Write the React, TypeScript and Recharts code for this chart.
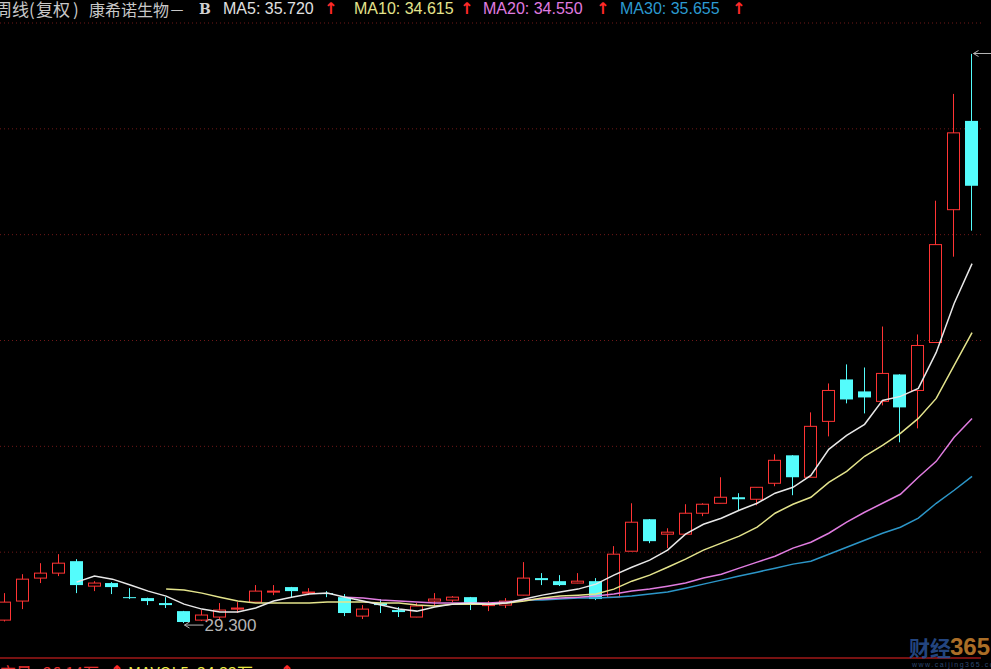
import React from 'react';
import { Bar, CartesianGrid, ComposedChart, Line, ReferenceLine, XAxis, YAxis } from 'recharts';

// weekly candles (prices)
const opens = [29.58, 31.38, 33.55, 34.02, 35.15, 32.79, 33.08, 31.75, 31.66, 31.19, 30.43, 29.58, 29.87, 30.62, 31.28, 32.23, 32.7, 32.13, 32.13, 31.75, 29.96, 31.19, 30.53, 29.87, 31.38, 31.47, 31.75, 30.95, 31.0, 31.94, 33.55, 33.26, 33.08, 33.26, 31.75, 36.09, 39.11, 37.7, 37.7, 39.68, 40.62, 41.19, 41.0, 42.51, 45.15, 43.08, 48.36, 52.32, 51.19, 50.25, 52.79, 51.28, 55.81, 68.36, 76.75];
const closes = [31.28, 33.45, 34.02, 34.96, 32.89, 33.08, 32.7, 31.66, 31.38, 31.0, 29.4, 30.06, 30.53, 30.72, 32.32, 32.32, 32.32, 32.23, 32.04, 30.25, 30.62, 31.0, 30.34, 30.91, 31.57, 31.75, 31.19, 31.05, 31.38, 33.55, 33.36, 32.89, 33.26, 31.57, 35.81, 38.83, 37.04, 37.89, 39.68, 40.53, 41.19, 41.0, 42.13, 44.68, 43.08, 47.89, 51.28, 50.43, 50.62, 52.89, 49.68, 55.53, 65.06, 75.62, 70.62];
const highs = [32.13, 33.92, 34.96, 35.81, 35.34, 33.26, 33.17, 32.6, 31.7, 31.75, 30.45, 30.53, 31.19, 31.28, 32.89, 32.89, 32.72, 32.6, 32.32, 32.04, 31.0, 31.57, 30.81, 31.19, 32.13, 31.85, 31.77, 31.38, 31.66, 35.06, 34.02, 33.83, 34.02, 33.55, 36.57, 40.62, 39.13, 38.26, 40.53, 40.62, 43.08, 41.57, 42.15, 45.25, 45.17, 49.21, 51.94, 53.74, 53.45, 57.32, 52.81, 56.57, 69.21, 79.3, 83.08];
const lows = [29.45, 30.62, 33.08, 33.74, 32.13, 32.32, 32.04, 31.57, 31.0, 30.72, 29.3, 29.49, 29.68, 30.25, 31.26, 31.94, 31.75, 31.94, 31.75, 29.96, 29.68, 30.25, 29.87, 29.85, 30.91, 31.28, 30.53, 30.43, 30.72, 31.92, 32.89, 32.8, 33.06, 31.47, 31.73, 36.07, 36.85, 36.38, 37.68, 39.4, 40.6, 39.96, 40.43, 42.23, 41.38, 43.06, 46.94, 50.06, 49.11, 49.87, 46.38, 47.7, 55.79, 63.92, 66.38];

// moving averages as drawn (leading weeks have no value yet)
const lead = (n: number, values: number[]) => [...Array(n).fill(null), ...values];
const ma5 = lead(4, [33.17, 33.74, 33.45, 32.89, 32.32, 31.85, 31.09, 30.62, 30.34, 30.34, 30.72, 31.38, 31.75, 32.04, 32.13, 31.75, 31.38, 31.0, 30.62, 30.43, 30.81, 31.09, 31.19, 31.09, 31.19, 31.57, 31.94, 32.23, 32.51, 32.98, 33.83, 34.58, 35.25, 36.19, 37.7, 38.64, 39.21, 39.96, 40.62, 41.57, 42.13, 43.26, 45.72, 47.04, 48.08, 50.34, 50.72, 51.47, 54.87, 59.49, 63.26]);
const ma10 = lead(9, [32.51, 32.42, 32.13, 31.75, 31.38, 31.19, 31.19, 31.19, 31.19, 31.28, 31.28, 31.28, 31.19, 31.19, 31.0, 30.91, 31.09, 31.09, 31.09, 31.19, 31.38, 31.66, 31.85, 31.94, 32.04, 32.51, 33.26, 33.83, 34.58, 35.34, 36.19, 36.85, 37.51, 38.36, 39.68, 40.53, 41.19, 42.6, 43.64, 45.06, 46.09, 47.23, 48.64, 50.53, 53.64, 56.75]);
const ma20 = lead(19, [31.75, 31.66, 31.47, 31.38, 31.28, 31.19, 31.19, 31.19, 31.19, 31.28, 31.47, 31.57, 31.66, 31.75, 31.85, 32.04, 32.32, 32.51, 32.79, 33.08, 33.55, 33.92, 34.49, 35.06, 35.62, 36.38, 36.94, 37.79, 38.83, 39.77, 40.62, 41.47, 43.08, 44.58, 46.85, 48.64]);
const ma30 = lead(29, [31.47, 31.47, 31.57, 31.66, 31.66, 31.75, 31.85, 32.04, 32.23, 32.6, 32.98, 33.36, 33.74, 34.11, 34.49, 34.87, 35.15, 35.81, 36.47, 37.13, 37.79, 38.36, 39.21, 40.62, 41.85, 43.17]);

const weeks = opens.map((_, i) => String(i + 1));
const gridPrices = [36, 46, 56, 66, 76, 86];

const data = weeks.map((week, i) => ({
  week,
  open: opens[i],
  close: closes[i],
  high: highs[i],
  low: lows[i],
  ma5: ma5[i],
  ma10: ma10[i],
  ma20: ma20[i],
  ma30: ma30[i],
}));

const lowIdx = lows.indexOf(Math.min(...lows));
const highIdx = highs.indexOf(Math.max(...highs));

const UP = '#ff3434';
const DOWN = '#54fcfc';
const MARK = '#b4b4b4';

function Candle(props: any) {
  const { x, y, width, height, payload, index } = props;
  if (!payload) return null;
  const { open, close, high, low } = payload;
  const top = Math.min(y, y + height);
  const h = Math.abs(height);
  const toY = (v: number) => (high === low ? top : top + ((high - v) / (high - low)) * h);
  const cx = Math.floor(x + width / 2) + 0.5;
  const bodyTop = toY(Math.max(open, close));
  const bodyBot = toY(Math.min(open, close));
  const bodyH = Math.max(bodyBot - bodyTop, 1);
  const up = close >= open;

  const marks: React.ReactNode[] = [];
  if (index === lowIdx) {
    const ly = toY(low) + 2;
    marks.push(
      <g key="lo">
        <path d={`M${cx + 1} ${ly}H${cx + 20}M${cx + 1} ${ly}l5 -3M${cx + 1} ${ly}l5 3`} stroke={MARK} fill="none" />
        <text x={cx + 21} y={ly + 6} fill={MARK} fontSize={17} fontFamily="'Liberation Sans', Arial, sans-serif">
          {low.toFixed(3)}
        </text>
      </g>
    );
  }
  if (index === highIdx) {
    const hy = Math.floor(toY(high)) + 0.5;
    marks.push(
      <g key="hi">
        <path d={`M${cx + 2} ${hy}H${cx + 22}M${cx + 2} ${hy}l5 -3M${cx + 2} ${hy}l5 3`} stroke={MARK} fill="none" />
        <text x={cx + 24} y={hy + 6} fill={MARK} fontSize={17} fontFamily="'Liberation Sans', Arial, sans-serif">
          {high.toFixed(3)}
        </text>
      </g>
    );
  }

  if (up) {
    return (
      <g>
        <line x1={cx} x2={cx} y1={top} y2={bodyTop} stroke={UP} />
        <line x1={cx} x2={cx} y1={bodyTop + bodyH} y2={top + h} stroke={UP} />
        <rect x={cx - 6} y={bodyTop} width={12} height={bodyH} fill="none" stroke={UP} />
        {marks}
      </g>
    );
  }
  return (
    <g>
      <line x1={cx} x2={cx} y1={top} y2={top + h} stroke={DOWN} />
      <rect x={cx - 6.5} y={bodyTop} width={13} height={bodyH} fill={DOWN} />
      {marks}
    </g>
  );
}

const latin = "'Liberation Sans', Arial, 'Noto Sans CJK SC', sans-serif";
const cjk = "'Noto Sans CJK SC', 'Liberation Sans', sans-serif";
const arrowFont: React.CSSProperties = { fontFamily: "'DejaVu Sans', sans-serif", fontWeight: 'bold' };

const span = (left: number, top: number, color: string, extra: React.CSSProperties = {}): React.CSSProperties => ({
  position: 'absolute',
  left,
  top,
  color,
  whiteSpace: 'nowrap',
  fontSize: 16,
  lineHeight: '18px',
  fontFamily: latin,
  ...extra,
});

export default function App() {
  return (
    <div style={{ position: 'absolute', left: 0, top: 0, width: 991, height: 669, overflow: 'hidden', background: '#000' }}>
      <ComposedChart
        width={995}
        height={669}
        data={data}
        margin={{ top: 23, right: 10, bottom: 11, left: 0 }}
        style={{ position: 'absolute', left: -4, top: 0 }}
      >
        <CartesianGrid vertical={false} horizontalValues={gridPrices} stroke="#701818" strokeDasharray="1 3" />
        <XAxis dataKey="week" hide />
        <YAxis domain={[26, 86]} allowDataOverflow hide />
        <ReferenceLine y={26} stroke="#a01818" strokeWidth={1.5} />
        <Bar dataKey={(d: any) => [d.low, d.high]} barSize={13} shape={(p: any) => <Candle {...p} />} isAnimationActive={false} />
        <Line dataKey="ma30" stroke="#2c96c8" strokeWidth={1.5} dot={false} activeDot={false} isAnimationActive={false} />
        <Line dataKey="ma20" stroke="#e07ce0" strokeWidth={1.5} dot={false} activeDot={false} isAnimationActive={false} />
        <Line dataKey="ma10" stroke="#e4e48c" strokeWidth={1.5} dot={false} activeDot={false} isAnimationActive={false} />
        <Line dataKey="ma5" stroke="#e8e8e8" strokeWidth={1.5} dot={false} activeDot={false} isAnimationActive={false} />
      </ComposedChart>

      {/* title row */}
      <span style={span(-5, 0, '#c8c8c8', { fontFamily: cjk, fontSize: 17 })}>周线</span>
      <span style={span(29, 0, '#c8c8c8', { fontFamily: cjk, fontSize: 17 })}>(</span>
      <span style={span(36, 0, '#c8c8c8', { fontFamily: cjk, fontSize: 17 })}>复权</span>
      <span style={span(73, 0, '#c8c8c8', { fontFamily: cjk, fontSize: 17 })}>)</span>
      <span style={span(89, 0, '#c8c8c8', { fontFamily: cjk })}>康希诺生物－</span>
      <span style={span(199, 0, '#d0d0d0', { fontFamily: "'DejaVu Serif', serif", fontWeight: 'bold', fontSize: 14 })}>B</span>
      <span style={span(223, 0, '#e0e0e0')}>MA5: 35.720</span>
      <span style={span(324, 0, '#ff2a2a', arrowFont)}>↑</span>
      <span style={span(354, 0, '#e4e48c')}>MA10: 34.615</span>
      <span style={span(460, 0, '#ff2a2a', arrowFont)}>↑</span>
      <span style={span(483, 0, '#e07ce0')}>MA20: 34.550</span>
      <span style={span(596, 0, '#ff2a2a', arrowFont)}>↑</span>
      <span style={span(620, 0, '#2c9ad0')}>MA30: 35.655</span>
      <span style={span(732, 0, '#ff2a2a', arrowFont)}>↑</span>

      {/* volume panel title, mostly cut off by the window */}
      <span style={span(-16, 663, '#e83030', { fontFamily: cjk })}>成交量:</span>
      <span style={span(43, 663, '#e83030', { fontFamily: cjk })}>26.14万</span>
      <span style={span(110, 663, '#ff2a2a', arrowFont)}>↑</span>
      <span style={span(128, 663, '#e8e840', { fontFamily: cjk })}>MAVOL5: 34.33万</span>
      <span style={span(280, 663, '#ff2a2a', arrowFont)}>↑</span>

      {/* watermark */}
      <span style={span(909, 635, '#2a5296', { fontFamily: cjk, fontWeight: 'bold', fontSize: 21, lineHeight: '24px', opacity: 0.85 })}>财经</span>
      <span style={span(950, 634, '#c9822e', { fontWeight: 'bold', fontSize: 24, lineHeight: '26px', opacity: 0.85 })}>365</span>
      <span style={span(912, 661, '#3a5a8a', { fontSize: 7, lineHeight: '8px', letterSpacing: 1.5, opacity: 0.8 })}>www.caijing365.com</span>
    </div>
  );
}
